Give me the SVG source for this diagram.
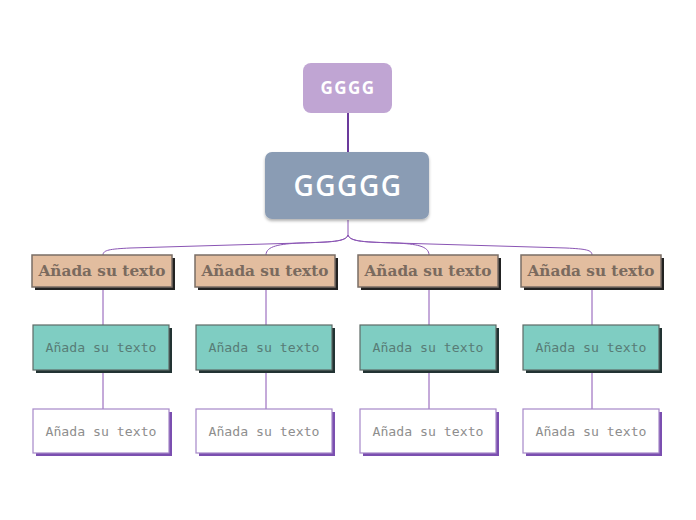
<svg xmlns="http://www.w3.org/2000/svg" width="696" height="520" viewBox="0 0 696 520">
<defs>
<filter id="sh" x="-10%" y="-10%" width="120%" height="130%">
<feDropShadow dx="0" dy="2" stdDeviation="1.5" flood-color="#000" flood-opacity="0.3"/>
</filter>
</defs>
<style>
.conn{fill:none;stroke:#8a55b4;stroke-width:1;}
.l1{fill:#e2bd9f;stroke:#7a6e66;stroke-width:1.5;}
.l1s{fill:#222;}
.l1t{font-family:"DejaVu Serif","Liberation Serif",serif;font-weight:bold;font-size:14px;fill:#7a6a5e;text-anchor:middle;}
.l2{fill:#7fcdc2;stroke:#5e6a66;stroke-width:1.2;}
.l2s{fill:#233;}
.l2t{font-family:"DejaVu Sans Mono","Liberation Mono",monospace;font-size:13px;fill:#587c76;text-anchor:middle;}
.l3{fill:#fff;stroke:#a688c8;stroke-width:1.2;}
.l3s{fill:#7b4fb0;}
.l3t{font-family:"DejaVu Sans Mono","Liberation Mono",monospace;font-size:13px;fill:#8e8e8e;text-anchor:middle;}
</style>
<g id="connectors">
<path d="M348,113 V152" fill="none" stroke="#6b3a9c" stroke-width="2"/>
<path class="conn" d="M348,220 V235"/>
<path class="conn" d="M348,235 C346,242 330,242 300,243 L130,248 C110,249 103,250 103,255"/>
<path class="conn" d="M348,235 C346,242 330,242 300,243 C280,244 266,246 266,255"/>
<path class="conn" d="M348,235 C350,242 366,242 396,243 C416,244 429,246 429,255"/>
<path class="conn" d="M348,235 C350,242 366,242 396,243 L566,248 C586,249 592,250 592,255"/>
<path class="conn" d="M103,287 V326 M103,370 V409"/>
<path class="conn" d="M266,287 V326 M266,370 V409"/>
<path class="conn" d="M429,287 V326 M429,370 V409"/>
<path class="conn" d="M592,287 V326 M592,370 V409"/>
</g>
<g id="top">
<rect x="303" y="63" width="89" height="50" rx="8" fill="#c0a5d3"/>
<text x="348" y="94" font-family="'Open Sans','Noto Sans',sans-serif" font-weight="bold" font-size="17" letter-spacing="1.5" fill="#fff" text-anchor="middle">GGGG</text>
</g>
<g id="main">
<rect x="265" y="152" width="164" height="67" rx="7" fill="#8a9cb4" filter="url(#sh)"/>
<text x="348" y="196" font-family="'Open Sans','Noto Sans',sans-serif" font-weight="600" font-size="28" letter-spacing="1.5" fill="#fff" text-anchor="middle">GGGGG</text>
</g>
<g id="a1"><rect class="l1s" x="35" y="258" width="140" height="32"/><rect class="l1" x="32" y="255" width="140" height="32"/><text class="l1t" x="102" y="276" textLength="127" lengthAdjust="spacingAndGlyphs">Añada su texto</text></g>
<g id="a2"><rect class="l1s" x="198" y="258" width="140" height="32"/><rect class="l1" x="195" y="255" width="140" height="32"/><text class="l1t" x="265" y="276" textLength="127" lengthAdjust="spacingAndGlyphs">Añada su texto</text></g>
<g id="a3"><rect class="l1s" x="361" y="258" width="140" height="32"/><rect class="l1" x="358" y="255" width="140" height="32"/><text class="l1t" x="428" y="276" textLength="127" lengthAdjust="spacingAndGlyphs">Añada su texto</text></g>
<g id="a4"><rect class="l1s" x="524" y="258" width="140" height="32"/><rect class="l1" x="521" y="255" width="140" height="32"/><text class="l1t" x="591" y="276" textLength="127" lengthAdjust="spacingAndGlyphs">Añada su texto</text></g>
<g id="b1"><rect class="l2s" x="36" y="328" width="136" height="45"/><rect class="l2" x="33" y="325" width="136" height="45"/><text class="l2t" x="101" y="352" textLength="111" lengthAdjust="spacingAndGlyphs">Añada su texto</text></g>
<g id="b2"><rect class="l2s" x="199" y="328" width="136" height="45"/><rect class="l2" x="196" y="325" width="136" height="45"/><text class="l2t" x="264" y="352" textLength="111" lengthAdjust="spacingAndGlyphs">Añada su texto</text></g>
<g id="b3"><rect class="l2s" x="363" y="328" width="136" height="45"/><rect class="l2" x="360" y="325" width="136" height="45"/><text class="l2t" x="428" y="352" textLength="111" lengthAdjust="spacingAndGlyphs">Añada su texto</text></g>
<g id="b4"><rect class="l2s" x="526" y="328" width="136" height="45"/><rect class="l2" x="523" y="325" width="136" height="45"/><text class="l2t" x="591" y="352" textLength="111" lengthAdjust="spacingAndGlyphs">Añada su texto</text></g>
<g id="c1"><rect class="l3s" x="36" y="412" width="136" height="44"/><rect class="l3" x="33" y="409" width="136" height="44"/><text class="l3t" x="101" y="436" textLength="111" lengthAdjust="spacingAndGlyphs">Añada su texto</text></g>
<g id="c2"><rect class="l3s" x="199" y="412" width="136" height="44"/><rect class="l3" x="196" y="409" width="136" height="44"/><text class="l3t" x="264" y="436" textLength="111" lengthAdjust="spacingAndGlyphs">Añada su texto</text></g>
<g id="c3"><rect class="l3s" x="363" y="412" width="136" height="44"/><rect class="l3" x="360" y="409" width="136" height="44"/><text class="l3t" x="428" y="436" textLength="111" lengthAdjust="spacingAndGlyphs">Añada su texto</text></g>
<g id="c4"><rect class="l3s" x="526" y="412" width="136" height="44"/><rect class="l3" x="523" y="409" width="136" height="44"/><text class="l3t" x="591" y="436" textLength="111" lengthAdjust="spacingAndGlyphs">Añada su texto</text></g>
</svg>
